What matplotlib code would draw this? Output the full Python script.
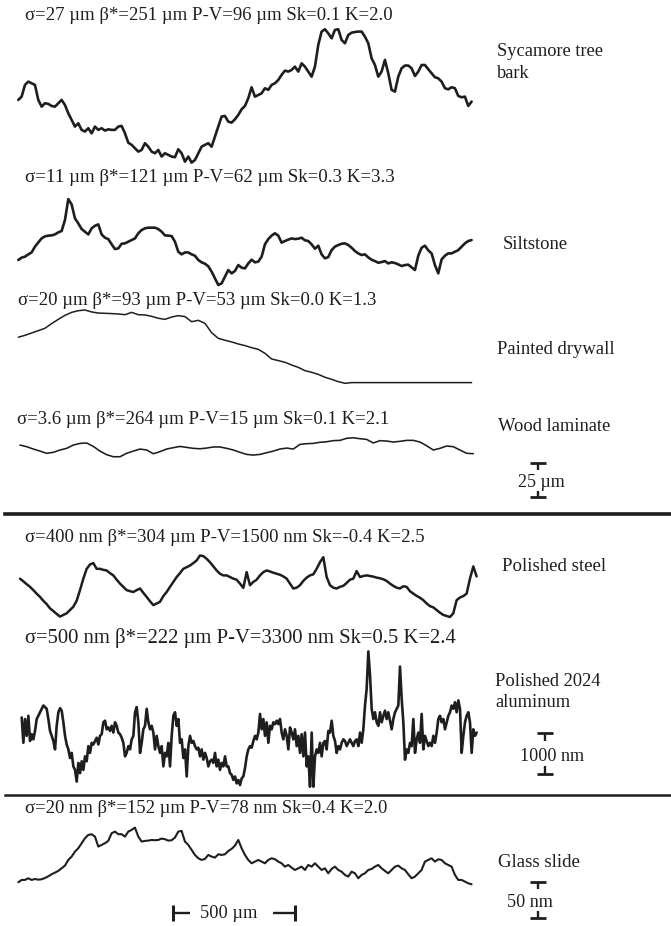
import numpy as np
import matplotlib
matplotlib.use("Agg")
import matplotlib.pyplot as plt
from matplotlib.lines import Line2D

plt.rcParams["font.family"] = ["Liberation Serif", "DejaVu Serif"]

# ---------------------------------------------------------------------------
# Surface height profiles (heights above each profile's lowest point)
# ---------------------------------------------------------------------------
sycamore_um = [
    46.1, 48.5, 57.0, 59.4, 58.2, 57.0, 46.1, 41.2, 43.7, 43.2,
    41.7, 41.2, 43.7, 46.1, 42.4, 36.4, 31.5, 26.7, 29.1, 24.3,
    23.1, 25.5, 21.8, 26.7, 24.3, 25.5, 23.8, 24.7, 24.3, 24.3,
    26.7, 27.2, 21.8, 15.0, 13.4, 10.9, 8.5, 9.7, 14.6, 12.1,
    8.5, 7.3, 9.7, 4.9, 7.3, 6.1, 4.9, 4.4, 10.2, 7.3,
    1.2, 4.9, 0.5, 2.4, 7.3, 12.1, 13.4, 14.6, 12.1, 19.4,
    26.7, 34.0, 34.4, 30.3, 29.6, 32.0, 35.2, 39.3, 41.7, 47.3,
    55.3, 48.5, 49.7, 50.9, 54.6, 53.4, 57.0, 58.2, 60.6, 64.3,
    67.4, 66.7, 67.9, 70.3, 66.7, 72.7, 70.3, 66.7, 63.0, 70.3,
    86.1, 95.8, 97.5, 94.5, 90.9, 97.0, 97.5, 89.7, 87.3, 93.3,
    95.0, 95.5, 95.8, 95.8, 92.1, 87.3, 76.4, 71.5, 63.0, 66.7,
    75.2, 65.5, 53.4, 52.1, 63.0, 69.1, 71.1, 71.1, 69.1, 63.5,
    66.7, 71.5, 71.5, 68.4, 65.5, 62.6, 61.8, 59.4, 54.6, 53.8,
    55.3, 54.6, 49.0, 48.0, 48.5, 41.7, 44.9,
]

siltstone_um = [
    18.7, 20.4, 21.1, 22.8, 24.2, 28.4, 31.5, 34.4, 35.9, 36.4,
    36.6, 37.3, 38.8, 39.8, 47.8, 63.0, 59.1, 49.0, 45.3, 41.2,
    39.3, 37.3, 41.7, 43.6, 44.6, 37.3, 34.9, 33.9, 30.1, 26.7,
    27.1, 30.5, 30.8, 32.0, 33.2, 34.4, 38.1, 40.5, 41.7, 42.2,
    42.2, 42.2, 41.2, 39.3, 36.6, 36.4, 36.1, 32.0, 24.7, 22.8,
    24.2, 24.2, 22.8, 21.8, 18.7, 17.0, 16.0, 14.1, 10.2, 5.3,
    0.5, 1.7, 6.5, 11.4, 9.0, 10.7, 15.0, 13.1, 12.6, 16.2,
    18.9, 17.0, 17.5, 21.1, 30.1, 33.9, 36.4, 38.1, 36.4, 31.3,
    32.5, 33.5, 34.4, 33.9, 34.2, 34.9, 33.0, 32.5, 30.1, 26.9,
    29.1, 22.8, 19.9, 20.8, 25.9, 28.4, 29.6, 30.5, 30.8, 29.6,
    27.6, 25.2, 23.5, 22.3, 22.8, 20.6, 18.9, 17.9, 16.7, 17.2,
    17.9, 16.2, 17.0, 16.5, 15.5, 14.3, 15.0, 15.3, 13.3, 11.4,
    21.8, 27.6, 29.1, 25.7, 23.5, 15.0, 9.0, 19.1, 21.8, 23.5,
    23.5, 24.7, 25.9, 28.4, 30.8, 32.5, 33.2,
]

drywall_um = [
    33.5, 34.9, 36.6, 38.3, 40.0, 43.4, 46.5, 49.4, 51.6, 52.8,
    53.3, 51.9, 51.1, 50.9, 50.7, 50.4, 49.9, 51.6, 49.9, 49.7,
    48.7, 47.3, 46.5, 48.2, 49.2, 48.5, 44.8, 45.8, 43.6, 36.8,
    32.7, 31.3, 30.1, 28.6, 27.4, 25.9, 24.7, 21.8, 17.7, 16.5,
    15.3, 13.3, 11.6, 9.2, 8.0, 6.5, 4.4, 2.9, 1.2, 0.0,
    0.5, 0.5, 0.5, 0.5, 0.5, 0.5, 0.5, 0.5, 0.5, 0.5,
    0.5, 0.5, 0.5, 0.5, 0.5, 0.5, 0.5, 0.5, 0.5,
]

laminate_um = [
    9.2, 8.0, 6.3, 4.8, 3.2, 3.9, 5.6, 6.8, 9.2, 10.4,
    10.7, 8.2, 4.8, 2.2, 0.7, 0.7, 3.2, 4.8, 6.3, 5.6,
    2.9, 4.4, 6.3, 7.3, 8.2, 7.5, 6.8, 6.5, 7.0, 7.8,
    7.8, 6.8, 5.6, 3.9, 2.4, 1.9, 2.4, 3.6, 4.8, 6.3,
    7.0, 6.3, 9.7, 10.2, 10.4, 11.2, 11.6, 12.4, 12.6, 14.1,
    14.5, 13.8, 13.3, 10.7, 12.4, 12.1, 11.4, 11.9, 12.6, 12.6,
    11.4, 8.7, 5.6, 6.8, 8.5, 8.0, 5.6, 3.2, 2.9,
]

steel_nm = [
    935, 870, 800, 735, 655, 570, 490, 395, 315, 210,
    145, 75, 10, 50, 90, 170, 250, 395, 655, 935,
    1175, 1280, 1315, 1175, 1175, 1150, 1135, 1070, 1015, 910,
    815, 735, 655, 630, 610, 655, 695, 590, 490, 385,
    290, 330, 370, 510, 610, 735, 855, 975, 1070, 1175,
    1215, 1255, 1315, 1380, 1500, 1485, 1420, 1335, 1235, 1135,
    1055, 1015, 1015, 975, 935, 910, 815, 710, 1095, 775,
    855, 910, 1015, 1095, 1135, 1110, 1080, 1055, 1030, 990,
    935, 815, 695, 715, 775, 880, 960, 1015, 1040, 1175,
    1335, 1460, 975, 775, 715, 695, 735, 760, 830, 910,
    935, 1120, 975, 1000, 1015, 1000, 985, 960, 945, 920,
    880, 815, 760, 715, 695, 750, 735, 630, 570, 515,
    470, 410, 330, 265, 235, 170, 105, 50, 25, 0,
    90, 410, 475, 510, 570, 935, 1235, 990,
]

aluminum_nm = [
    1690, 1070, 1650, 1240, 1730, 1115, 1280, 1155, 1360, 1650,
    1730, 1815, 1900, 1980, 1940, 1900, 1650, 1360, 1240, 1115,
    910, 1485, 1815, 1915, 1855, 1570, 1240, 1030, 910, 700,
    825, 495, 410, 125, 580, 330, 620, 410, 740, 620,
    990, 825, 1070, 1030, 1115, 1195, 1030, 1240, 1280, 1570,
    1610, 1400, 1445, 1360, 1485, 1320, 1570, 1485, 1320, 1280,
    1195, 1070, 740, 825, 990, 910, 1155, 1240, 1815, 1940,
    1570, 825, 1070, 1400, 1485, 1900, 1570, 1400, 1485, 1320,
    910, 1240, 990, 825, 990, 495, 825, 740, 1070, 495,
    1240, 1730, 1815, 1485, 1650, 1070, 1155, 700, 910, 250,
    990, 1240, 1070, 1115, 990, 910, 950, 740, 910, 660,
    825, 700, 495, 620, 660, 580, 825, 495, 660, 410,
    580, 495, 740, 495, 495, 330, 290, 165, 250, 80,
    165, 40, 205, 250, 455, 740, 910, 990, 950, 1115,
    1240, 1155, 1320, 1775, 1400, 1650, 1240, 1570, 1070, 1485,
    1400, 1570, 1525, 1610, 1525, 1650, 1320, 1155, 1400, 1240,
    910, 1445, 1320, 1155, 1400, 990, 1240, 825, 1280, 740,
    1320, 495, 740, 0, 1320, 0, 740, 910, 825, 1070,
    740, 1070, 1115, 910, 1360, 1320, 1610, 1240, 1115, 825,
    990, 910, 1070, 1155, 1115, 990, 1070, 1155, 1070, 990,
    1115, 1155, 990, 1320, 1070, 1400, 1980, 2390, 3300, 2720,
    1900, 1650, 1815, 1570, 1485, 1815, 1570, 1730, 1855, 1650,
    1815, 1610, 1400, 1650, 1815, 1900, 1980, 2930, 2145, 1570,
    660, 910, 825, 1070, 990, 1650, 825, 1155, 1320, 1070,
    1775, 910, 1240, 1115, 990, 1070, 990, 1240, 1070, 1320,
    1650, 1730, 1570, 1650, 1400, 1570, 1730, 1815, 1980, 1900,
    2060, 1815, 2105, 1900, 825, 1240, 1570, 1730, 1815, 1570,
    825, 1400, 1240, 1320,
]

glass_nm = [
    2.8, 6.0, 6.0, 8.3, 6.0, 7.3, 6.4, 6.9, 8.7, 11.0,
    13.8, 16.1, 18.4, 22.0, 25.7, 33.5, 38.1, 45.0, 49.6, 56.5,
    63.3, 67.9, 68.9, 65.6, 51.9, 54.2, 56.5, 59.7, 70.2, 72.5,
    68.9, 68.9, 65.6, 72.5, 74.8, 78.0, 65.6, 58.8, 59.7, 60.1,
    61.0, 60.6, 61.0, 62.9, 62.0, 60.1, 60.6, 64.3, 72.5, 73.4,
    58.8, 54.2, 47.3, 40.4, 35.8, 33.5, 34.9, 40.4, 38.1, 36.7,
    41.3, 40.4, 41.3, 45.9, 48.7, 53.2, 61.0, 49.6, 40.4, 33.5,
    28.9, 31.2, 33.5, 31.2, 28.9, 33.5, 35.8, 34.4, 31.2, 28.9,
    24.3, 26.6, 23.0, 19.7, 22.0, 24.3, 19.7, 26.6, 24.3, 28.9,
    24.3, 19.7, 22.0, 15.1, 21.1, 24.3, 19.7, 17.4, 12.9, 10.6,
    17.4, 15.1, 8.3, 12.9, 15.1, 19.7, 21.1, 24.3, 26.6, 22.0,
    18.4, 15.1, 19.7, 24.3, 25.7, 22.0, 19.7, 13.8, 8.3, 10.6,
    15.1, 19.7, 31.2, 33.5, 35.8, 31.2, 34.4, 33.5, 28.9, 26.6,
    24.3, 12.9, 6.0, 6.0, 3.7, 1.4, 0.0,
]

# lateral spacing between stored samples (µm)
sample_step_um = [13.66, 13.66, 27.32, 27.32, 13.66, 6.83, 13.66]

surface_names = [
    ["Sycamore tree", "bark"],
    ["Siltstone"],
    ["Painted drywall"],
    ["Wood laminate"],
    ["Polished steel"],
    ["Polished 2024", "aluminum"],
    ["Glass slide"],
]

surface_stats = [
    "σ=27 µm β*=251 µm P-V=96 µm Sk=0.1 K=2.0",
    "σ=11 µm β*=121 µm P-V=62 µm Sk=0.3 K=3.3",
    "σ=20 µm β*=93 µm P-V=53 µm Sk=0.0 K=1.3",
    "σ=3.6 µm β*=264 µm P-V=15 µm Sk=0.1 K=2.1",
    "σ=400 nm β*=304 µm P-V=1500 nm Sk=-0.4 K=2.5",
    "σ=500 nm β*=222 µm P-V=3300 nm Sk=0.5 K=2.4",
    "σ=20 nm β*=152 µm P-V=78 nm Sk=0.4 K=2.0",
]

height_bar_values = [25, 1000, 50]
height_bar_labels = ["25 µm", "1000 nm", "50 nm"]
lateral_bar_um = 500
lateral_bar_label = "500 µm"

profiles = [sycamore_um, siltstone_um, drywall_um, laminate_um,
            steel_nm, aluminum_nm, glass_nm]

# ---------------------------------------------------------------------------
# Layout (figure pixels, origin at top-left)
# ---------------------------------------------------------------------------
W, H, DPI = 671, 926, 100
INK = "#1e1e1e"

PX_PER_UM_X = 0.244          # lateral magnification
PX_PER_UM_Z = 1.375          # height magnification, rough surfaces
PX_PER_NM_Z_POLISHED = 0.041  # height magnification, polished metals
PX_PER_NM_Z_GLASS = 0.727     # height magnification, glass

# (trace start x, zero-height row, px per height unit, line width)
trace_layout = [
    (18.3, 163.3, PX_PER_UM_Z, 1.9),
    (18.3, 285.7, PX_PER_UM_Z, 1.9),
    (18.3, 383.3, PX_PER_UM_Z, 1.1),
    (20.0, 457.7, PX_PER_UM_Z, 1.15),
    (20.0, 617.0, PX_PER_NM_Z_POLISHED, 1.8),
    (21.7, 786.7, PX_PER_NM_Z_POLISHED, 1.9),
    (18.3, 884.3, PX_PER_NM_Z_GLASS, 1.5),
]

# (x, baseline, width) of the statistics line above each trace
stats_layout = [
    (25.0, 20, 368), (25.0, 182, 368), (18.3, 305, 358), (16.7, 424, 371),
    (25.0, 542, 400), (25.0, 643, 432), (25.0, 813, 362),
]

# (x, first baseline, width of first line, line spacing) of surface names
name_layout = [
    (496.7, 56, 106, 22), (503.0, 249, 65, 0), (496.7, 354, 117, 0),
    (498.0, 431, 112, 0), (501.7, 571, 104, 0), (495.0, 686, 105, 21),
    (498.0, 867, 82, 0),
]

fig = plt.figure(figsize=(W / DPI, H / DPI), dpi=DPI)
fig.patch.set_facecolor("white")
renderer = fig.canvas.get_renderer()


def fx(px):
    return px / W


def fy(py):
    return 1.0 - py / H


def profile_axes(x0_px, base_px, px_per_unit):
    """Full-figure transparent axes: x in µm from x0_px, height zero at base_px."""
    ax = fig.add_axes([0, 0, 1, 1])
    ax.set_xlim(-x0_px / PX_PER_UM_X, (W - x0_px) / PX_PER_UM_X)
    ax.set_ylim((base_px - H) / px_per_unit, base_px / px_per_unit)
    ax.set_axis_off()
    ax.patch.set_alpha(0)
    return ax


def fitted_text(x_px, base_px, text, width_px, ha="left", size=None):
    t = fig.text(fx(x_px), fy(base_px), text, fontsize=11, va="baseline",
                 ha=ha, color=INK)
    if size is None:
        w = t.get_window_extent(renderer).width
        size = 11 * width_px / w
    t.set_fontsize(size)
    return size


# traces
for h, step, (x0, base, scale, lw) in zip(profiles, sample_step_um, trace_layout):
    ax = profile_axes(x0, base, scale)
    x = np.arange(len(h)) * step
    ax.plot(x, h, color=INK, lw=lw, solid_joinstyle="round",
            solid_capstyle="round")

# statistics and names
for s, (x, b, w) in zip(surface_stats, stats_layout):
    fitted_text(x, b, s, w)

for lines, (x, b, w, gap) in zip(surface_names, name_layout):
    size = fitted_text(x, b, lines[0], w)
    for k, extra in enumerate(lines[1:], start=1):
        fitted_text(x, b + k * gap, extra, w, size=size)


# height scale bars
def height_bar(px_per_unit, x_px, top_px, value, label, label_x, label_base, label_w):
    ax = profile_axes(0.0, 0.0, px_per_unit)
    x = x_px / PX_PER_UM_X
    y0 = -top_px / px_per_unit
    y1 = y0 - value
    stem = 0.19 * value
    ax.plot([x, x], [y0, y0 - stem], color=INK, lw=1.7, solid_capstyle="butt")
    ax.plot([x, x], [y1 + stem, y1], color=INK, lw=1.7, solid_capstyle="butt")
    ax.plot([x, x], [y0, y1], ls="none", marker="_", ms=11.5, mew=2.0, color=INK)
    fitted_text(label_x, label_base, label, label_w, ha="center")


height_bar(PX_PER_UM_Z, 538, 463, height_bar_values[0], height_bar_labels[0], 541, 487, 47)
height_bar(PX_PER_NM_Z_POLISHED, 545, 733, height_bar_values[1], height_bar_labels[1], 552, 761, 64)
height_bar(PX_PER_NM_Z_GLASS, 538, 882, height_bar_values[2], height_bar_labels[2], 530, 907, 46)

# lateral scale bar
axl = profile_axes(0.0, 0.0, 1.0)
xa = 173 / PX_PER_UM_X
xb = xa + lateral_bar_um
yb = -913
axl.plot([xa, xa + 0.14 * lateral_bar_um], [yb, yb], color=INK, lw=1.7,
         solid_capstyle="butt")
axl.plot([xb - 0.18 * lateral_bar_um, xb], [yb, yb], color=INK, lw=1.7,
         solid_capstyle="butt")
axl.plot([xa, xb], [yb, yb], ls="none", marker="|", ms=12, mew=2.2, color=INK)
fitted_text(228.5, 918, lateral_bar_label, 57, ha="center")

# group separators
fig.add_artist(Line2D([fx(5), 1.0], [fy(514), fy(514)], lw=2.6, color=INK))
fig.add_artist(Line2D([fx(5), 1.0], [fy(795), fy(795)], lw=1.8, color=INK))

fig.savefig("out.png", dpi=DPI, facecolor="white")
